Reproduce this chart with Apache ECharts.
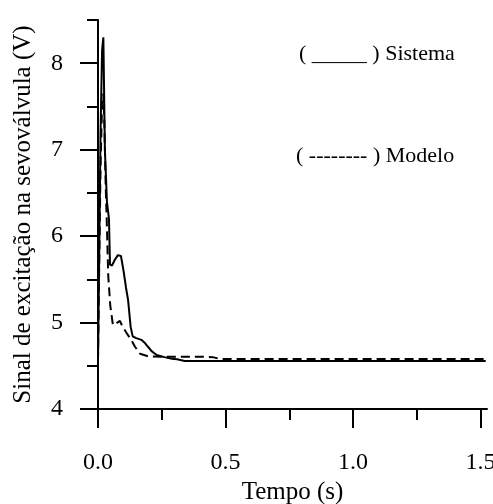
<!DOCTYPE html>
<html>
<head>
<meta charset="utf-8">
<script src="https://cdn.jsdelivr.net/npm/echarts@6/dist/echarts.min.js"></script>
<style>html,body{margin:0;padding:0;background:#fff;}#c{width:493px;height:504px;}</style>
</head>
<body>
<div id="c"></div>
<script>
// Data
var sistemaT = [0, 0.004, 0.01, 0.016, 0.021, 0.027, 0.035, 0.043, 0.047, 0.055, 0.065, 0.078, 0.09, 0.1, 0.11, 0.118, 0.128, 0.136, 0.15, 0.17, 0.185, 0.196, 0.21, 0.23, 0.26, 0.29, 0.31, 0.34, 1.52];
var sistemaV = [4.55, 5.6, 7.2, 8.15, 8.3, 7.0, 6.4, 6.2, 5.67, 5.66, 5.72, 5.78, 5.77, 5.6, 5.4, 5.26, 4.95, 4.84, 4.82, 4.8, 4.76, 4.72, 4.67, 4.625, 4.6, 4.58, 4.575, 4.556, 4.556];
var modeloT = [0, 0.004, 0.01, 0.015, 0.021, 0.025, 0.03, 0.036, 0.04, 0.048, 0.058, 0.067, 0.076, 0.086, 0.095, 0.112, 0.13, 0.145, 0.165, 0.196, 0.25, 0.3, 0.4, 0.45, 0.48, 1.0, 1.52];
var modeloV = [4.55, 5.5, 6.8, 7.4, 7.65, 7.3, 6.6, 6.0, 5.55, 5.2, 4.98, 4.97, 5.0, 5.02, 4.96, 4.88, 4.8, 4.72, 4.64, 4.61, 4.605, 4.605, 4.605, 4.6, 4.578, 4.578, 4.578];
var xLabels = [0, 0.5, 1.0, 1.5];
var xMinor = [0.25, 0.75, 1.25];
var yLabels = [4, 5, 6, 7, 8];
var yMinor = [4.5, 5.5, 6.5, 7.5, 8.5];
var legendTexts = ['( _____ ) Sistema', '( -------- ) Modelo'];

function pairs(t, v) { return t.map(function (x, i) { return [x, v[i]]; }); }

var FONT = 'Liberation Serif';
var chart = echarts.init(document.getElementById('c'), null, {renderer: 'canvas'});
chart.setOption({
  animation: false,
  backgroundColor: '#fff',
  grid: {left: 98, top: 20, right: 6, bottom: 95, containLabel: false, outerBoundsMode: 'none'},
  xAxis: [{
    type: 'value', min: 0, max: 1.525,
    axisLine: {show: true, lineStyle: {color: '#000', width: 2}},
    axisTick: {show: true, length: 19, lineStyle: {color: '#000', width: 2}, customValues: xLabels},
    axisLabel: {show: true, customValues: xLabels, margin: 42, color: '#000', fontFamily: FONT, fontSize: 24,
      formatter: function (v) { return v.toFixed(1); }},
    splitLine: {show: false},
    name: 'Tempo (s)', nameLocation: 'middle', nameGap: 68,
    nameTextStyle: {color: '#000', fontFamily: FONT, fontSize: 25}
  }, {
    type: 'value', min: 0, max: 1.525, position: 'bottom', offset: 0,
    axisLine: {show: false},
    axisTick: {show: true, length: 11, lineStyle: {color: '#000', width: 2}, customValues: xMinor},
    axisLabel: {show: false}, splitLine: {show: false}
  }],
  yAxis: [{
    type: 'value', min: 4, max: 8.5, position: 'left',
    axisLine: {show: true, lineStyle: {color: '#000', width: 2}},
    axisTick: {show: true, length: 18, lineStyle: {color: '#000', width: 2}, customValues: yLabels},
    axisLabel: {show: true, customValues: yLabels, margin: 35, color: '#000', fontFamily: FONT, fontSize: 24},
    splitLine: {show: false},
    name: 'Sinal de excitação na sevoválvula (V)', nameLocation: 'middle', nameGap: 62,
    nameTextStyle: {color: '#000', fontFamily: FONT, fontSize: 25}
  }, {
    type: 'value', min: 4, max: 8.5, position: 'left', offset: 0,
    axisLine: {show: false},
    axisTick: {show: true, length: 11, lineStyle: {color: '#000', width: 2}, customValues: yMinor},
    axisLabel: {show: false}, splitLine: {show: false}
  }],
  series: [{
    name: 'Sistema', type: 'line', data: pairs(sistemaT, sistemaV), showSymbol: false,
    lineStyle: {color: '#000', width: 2}, smooth: false
  }, {
    name: 'Modelo', type: 'line', data: pairs(modeloT, modeloV), showSymbol: false,
    lineStyle: {color: '#000', width: 2, type: [9, 5]}, smooth: false
  }],
  graphic: [{
    type: 'text', left: 299, top: 43,
    style: {text: legendTexts[0], fill: '#000', font: '22px "' + FONT + '"'}
  }, {
    type: 'text', left: 296, top: 145,
    style: {text: legendTexts[1], fill: '#000', font: '22px "' + FONT + '"'}
  }]
});
</script>
</body>
</html>
